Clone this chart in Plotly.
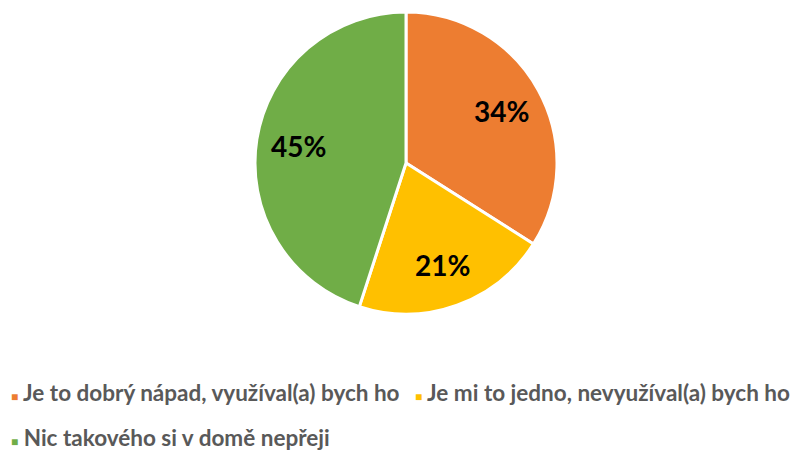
import math
import plotly.graph_objects as go

# ── data ──
labels = [
    "Je to dobrý nápad, využíval(a) bych ho",
    "Je mi to jedno, nevyužíval(a) bych ho",
    "Nic takového si v domě nepřeji",
]
values = [34, 21, 45]
colors = ["#ED7D31", "#FFC000", "#70AD47"]

W, H = 804, 450
# pie geometry in pixels (page body adds an 8px offset)
CX, CY, R = 398, 155, 151
LABEL_R = 0.72

fig = go.Figure(go.Pie(
    labels=labels,
    values=values,
    sort=False,
    direction="clockwise",
    rotation=0,
    marker=dict(colors=colors, line=dict(color="white", width=3)),
    textinfo="none",
    domain=dict(x=[(CX - R) / W, (CX + R) / W],
                y=[(H - CY - R) / H, (H - CY + R) / H]),
    hoverinfo="label+percent",
    showlegend=False,
))

# percentage labels at slice mid-angles
total = sum(values)
cum = 0
for v in values:
    mid = (cum + v / 2) / total * 2 * math.pi
    cum += v
    px = CX + LABEL_R * R * math.sin(mid)
    py = CY - LABEL_R * R * math.cos(mid)
    fig.add_annotation(
        x=px / W, y=1 - py / H, xref="paper", yref="paper",
        xanchor="center", yanchor="middle",
        text=f"{round(v / total * 100)}%", showarrow=False,
        font=dict(family="Lato", size=28, color="black", weight="bold"),
    )

# legend built from labels
leg_font = dict(family="Lato", size=22.5, color="#595959", weight="bold")
leg_pos = [(1, 384), (405, 384), (1, 429)]
for lab, col, (lx, ly) in zip(labels, colors, leg_pos):
    fig.add_annotation(
        x=lx / W, y=1 - ly / H, xref="paper", yref="paper",
        xanchor="left", yanchor="middle", showarrow=False,
        text=f"<span style='font-size:12px;color:{col}'>■</span> {lab}",
        font=leg_font,
    )

fig.update_layout(
    width=W,
    height=H,
    paper_bgcolor="white",
    margin=dict(l=0, r=0, t=0, b=0),
)

fig.write_html("out.html")
